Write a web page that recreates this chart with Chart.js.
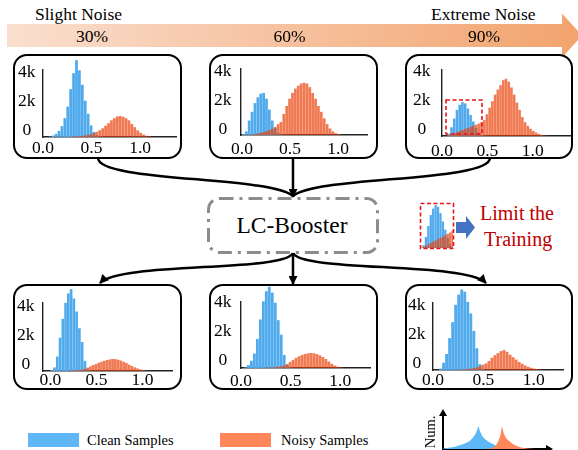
<!DOCTYPE html>
<html>
<head>
<meta charset="utf-8">
<title>LC-Booster noise histograms</title>
<script src="https://cdn.jsdelivr.net/npm/chart.js@4.4.1/dist/chart.umd.min.js"></script>
<style>
  html, body { margin: 0; padding: 0; background: #fff; }
  #fig { position: relative; width: 578px; height: 450px; overflow: hidden;
         font-family: 'Liberation Serif', 'Times New Roman', 'DejaVu Serif', serif; color: #000; }
  #fig svg { position: absolute; left: 0; top: 0; }
  .box { position: absolute; box-sizing: border-box; border: 2.5px solid #000;
         border-radius: 14px; background: #fff; }
  .t { position: absolute; white-space: nowrap; line-height: 1; z-index: 5; }
  .c { transform: translateX(-50%); }
  canvas { position: absolute; z-index: 3; }
  .key { position: absolute; height: 14px; width: 51px; top: 433px; }
</style>
</head>
<body>
<div id="fig">
  <svg id="bg" width="578" height="450">
    <defs>
      <linearGradient id="noiseGrad" x1="0" x2="1" y1="0" y2="0">
        <stop offset="0" stop-color="#fadfcf"/>
        <stop offset="1" stop-color="#f2a36d"/>
      </linearGradient>
      <marker id="ah" viewBox="0 0 10 10" refX="9" refY="5" markerWidth="10" markerHeight="9"
              markerUnits="userSpaceOnUse" orient="auto">
        <path d="M0,0 L10,5 L0,10 z" fill="#000"/>
      </marker>
    </defs>
    <polygon points="7,24 562,24 562,13.5 582,35.5 562,57.5 562,47 7,47" fill="url(#noiseGrad)"/>
    <g fill="none" stroke="#000" stroke-width="2.5">
      <path d="M98,158 C98,182 270,176 293,196"/>
      <path d="M490,158 C490,182 316,176 293,196"/>
      <path d="M293,158 L293,197" marker-end="url(#ah)"/>
      <path d="M293,253 C285,272 120,262 100,283" marker-end="url(#ah)"/>
      <path d="M293,253 L293,284" marker-end="url(#ah)"/>
      <path d="M293,253 C301,272 466,262 486,283" marker-end="url(#ah)"/>
    </g>
    <rect x="208.5" y="198.5" width="169" height="54" rx="11" fill="#fff" stroke="#8c8c8c"
          stroke-width="3" stroke-dasharray="14 6 3 6"/>
    <polygon points="456,222 466,222 466,216 475,227.5 466,239 466,233 456,233" fill="#4472c4"/>
  </svg>

  <div class="t" style="left:35px;top:6.2px;font-size:17.5px">Slight Noise</div>
  <div class="t" style="left:431px;top:6.2px;font-size:17.5px">Extreme Noise</div>
  <div class="t c" style="left:92px;top:28.3px;font-size:17.5px">30%</div>
  <div class="t c" style="left:289.5px;top:28.3px;font-size:17.5px">60%</div>
  <div class="t c" style="left:484px;top:28.3px;font-size:17.5px">90%</div>
  <div class="t c" style="left:292px;top:214px;font-size:23.5px">LC-Booster</div>
  <div class="t" style="left:480px;top:202.5px;font-size:20px;color:#c00000">Limit the</div>
  <div class="t" style="left:484px;top:229px;font-size:20px;color:#c00000">Training</div>

  <div class="key" style="left:27.5px;background:rgb(94,184,248)"></div>
  <div class="t" style="left:87px;top:433px;font-size:14.5px">Clean Samples</div>
  <div class="key" style="left:220px;background:rgb(255,135,90)"></div>
  <div class="t" style="left:281px;top:433px;font-size:14.5px">Noisy Samples</div>
</div>

<script>
// histogram bins on the score axis (bin centres)
const binWidth = 0.03;
const bins = Array.from({ length: 47 }, (_, k) => +(binWidth * (k + 0.5)).toFixed(3));

const xTicks = [0, 0.5, 1.0];
const xTickLabels = ['0.0', '0.5', '1.0'];
const yTicks = [0, 2000, 4000];
const yTickLabels = ['0', '2k', '4k'];

// top row: before LC-Booster (30%, 60%, 90% noise)
const clean30 = [0, 0, 30, 100, 220, 420, 750, 1300, 2100, 3300, 4400, 5300, 4600, 3600, 2500, 1600, 800, 350, 120, 40, 10];
const noisy30 = [0, 0, 0, 0, 0, 0, 0, 0, 0, 20, 30, 40, 60, 80, 110, 150, 200, 270, 360, 470, 600, 780, 950, 1150, 1300, 1420, 1450, 1400, 1300, 1150, 900, 680, 460, 290, 170, 90, 40, 15];
const clean60 = [60, 250, 1000, 1600, 2200, 2600, 2850, 2900, 2500, 1750, 1000, 500, 150, 40];
const noisy60 = [0, 0, 0, 30, 60, 100, 150, 200, 260, 330, 420, 550, 750, 900, 1450, 2000, 2500, 2900, 3200, 3400, 3550, 3600, 3550, 3300, 2900, 2500, 2000, 1600, 1150, 750, 450, 250, 130, 60, 20];
const clean90 = [0, 0, 150, 600, 1200, 1800, 2150, 2340, 2250, 1900, 1450, 1000, 550, 200, 60, 15];
const noisy90 = [0, 20, 60, 120, 200, 270, 340, 410, 480, 550, 620, 700, 780, 850, 950, 1100, 1500, 1950, 2400, 2850, 3200, 3500, 3850, 3950, 3750, 3350, 2850, 2300, 1800, 1300, 950, 700, 500, 350, 250, 150, 80, 40, 15];

// bottom row: after LC-Booster
const cleanB30 = [60, 250, 1000, 2300, 3600, 4700, 5350, 5650, 5000, 4100, 2950, 2000, 700, 150, 30];
const noisyB30 = [0, 0, 0, 0, 0, 0, 10, 20, 30, 50, 70, 100, 150, 230, 320, 410, 480, 570, 640, 700, 760, 800, 830, 820, 780, 720, 640, 550, 440, 340, 250, 180, 110, 60, 25, 10];
const cleanB60 = [0, 40, 200, 500, 1000, 2000, 3350, 4600, 5300, 5600, 5200, 4500, 3300, 2300, 900, 200, 40];
const noisyB60 = [0, 0, 0, 0, 0, 0, 0, 0, 10, 20, 30, 50, 80, 120, 180, 280, 420, 560, 700, 810, 900, 970, 1010, 1030, 1020, 960, 870, 760, 620, 450, 290, 170, 90, 40, 15];
const cleanB90 = [0, 0, 100, 500, 1100, 2200, 3300, 4500, 5200, 5550, 5400, 4700, 3900, 2700, 1500, 400, 80];
const noisyB90 = [0, 0, 0, 0, 0, 0, 0, 0, 10, 20, 40, 60, 90, 130, 180, 260, 360, 460, 620, 850, 1020, 1170, 1300, 1380, 1250, 1050, 880, 720, 560, 430, 310, 220, 150, 100, 60, 30, 10];

// little "Num." sketch in the legend
const numX = [0, 0.1, 0.19, 0.24, 0.27, 0.3, 0.315, 0.327, 0.34, 0.36, 0.38, 0.42, 0.46, 0.49, 0.51, 0.53, 0.545, 0.56, 0.58, 0.6, 0.64, 0.68, 0.73, 0.78, 0.85];
const numClean = [0.01, 0.05, 0.13, 0.2, 0.28, 0.4, 0.5, 0.61, 0.48, 0.36, 0.28, 0.19, 0.13, 0.09, 0.07, 0.05, 0.04, 0.03, 0.02, 0.015, 0.01, 0, 0, 0, 0];
const numNoisy = [0, 0, 0, 0, 0, 0, 0, 0, 0, 0, 0, 0.005, 0.03, 0.1, 0.2, 0.36, 0.61, 0.42, 0.3, 0.24, 0.14, 0.08, 0.03, 0.01, 0];

const cleanColor = 'rgb(80,170,236)';
const noisyColor = 'rgba(233,65,10,0.7)';
const serif = "'Liberation Serif', 'Times New Roman', 'DejaVu Serif', serif";

Chart.defaults.font.family = serif;
Chart.defaults.color = '#000';

const fig = document.getElementById('fig');

// box = [left, top, width, height]; axis = [x, top, right, bottom] in page pixels
const panels = [
  { clean: clean30, noisy: noisy30, box: [13, 54, 169, 105], axis: [43, 70, 176, 137], xr: [0, 1.37], xPad: 1, yPad: 7.5, lo: -7 },
  { clean: clean60, noisy: noisy60, box: [209, 54, 169, 105], axis: [241, 69, 367, 135], xr: [-0.01, 1.30], xPad: 3.5, yPad: 9.5, lo: -6 },
  { clean: clean90, noisy: noisy90, box: [405, 54, 168, 105], axis: [442, 70, 570, 136], xr: [0, 1.41], xPad: 4.5, yPad: 11.5, lo: -7 },
  { clean: cleanB30, noisy: noisyB30, box: [13, 284, 169, 106], axis: [43, 303, 172, 371], xr: [-0.08, 1.32], xPad: -1, yPad: 8.5, lo: -7 },
  { clean: cleanB60, noisy: noisyB60, box: [209, 284, 169, 106], axis: [241, 302, 370, 368], xr: [0, 1.30], xPad: 3, yPad: 9.5, lo: -8 },
  { clean: cleanB90, noisy: noisyB90, box: [405, 284, 168, 106], axis: [433, 303, 563, 370], xr: [0, 1.29], xPad: 0, yPad: 7.5, lo: -7 }
];

function place(el, left, top, w, h) {
  el.style.left = left + 'px';
  el.style.top = top + 'px';
  el.style.width = w + 'px';
  el.style.height = h + 'px';
}

function makeCanvas(left, top, w, h) {
  const c = document.createElement('canvas');
  c.width = w;
  c.height = h;
  place(c, left, top, w, h);
  fig.appendChild(c);
  return c;
}

function histDatasets(clean, noisy) {
  const common = { grouped: false, barPercentage: 0.95, categoryPercentage: 1, clip: false, borderWidth: 0 };
  return [
    { ...common, data: clean, backgroundColor: cleanColor, order: 2 },
    { ...common, data: noisy, backgroundColor: noisyColor, order: 1 }
  ];
}

function drawPanel(p) {
  const box = document.createElement('div');
  box.className = 'box';
  place(box, ...p.box);
  fig.appendChild(box);

  const [ax, at, ar, ab] = p.axis;
  const yW = 40, padTop = 24, xH = 28, padRight = 2;
  const w = ar - ax + yW + padRight;
  const h = padTop + (ab - at) + xH;
  const canvas = makeCanvas(ax - yW, at - padTop, w, h);
  const yMax = (ab - at) / 58 * 4000;
  const tickFont = { family: serif, size: 17.5 };

  new Chart(canvas, {
    type: 'bar',
    data: { labels: bins, datasets: histDatasets(p.clean, p.noisy) },
    options: {
      responsive: false,
      maintainAspectRatio: false,
      animation: false,
      events: [],
      layout: { padding: { top: padTop, right: padRight, left: 0, bottom: 0 } },
      plugins: { legend: { display: false }, tooltip: { enabled: false } },
      scales: {
        x: {
          type: 'linear',
          offset: false,
          min: p.xr[0],
          max: p.xr[1],
          grid: { display: false, drawTicks: false },
          border: { display: true, color: '#222', width: 1.4 },
          afterFit: s => { s.height = xH; },
          afterBuildTicks: s => { s.ticks = xTicks.map(v => ({ value: v })); },
          ticks: {
            padding: p.xPad, maxRotation: 0, autoSkip: false, font: tickFont,
            callback: (v, i) => xTickLabels[i]
          }
        },
        y: {
          min: 0,
          max: yMax,
          grid: { display: false, drawTicks: false },
          border: { display: true, color: '#222', width: 1.4 },
          afterFit: s => { s.width = yW; },
          afterBuildTicks: s => { s.ticks = yTicks.map(v => ({ value: v })); },
          ticks: {
            padding: p.yPad, crossAlign: 'center', labelOffset: p.lo, font: tickFont,
            callback: (v, i) => yTickLabels[i]
          }
        }
      }
    }
  });
}

panels.forEach(drawPanel);

// magnified view of the dashed region of the 90% panel
new Chart(makeCanvas(421, 204, 32, 44), {
  type: 'bar',
  data: { labels: bins, datasets: histDatasets(clean90, noisy90) },
  options: {
    responsive: false, maintainAspectRatio: false, animation: false, events: [],
    layout: { padding: 0 },
    plugins: { legend: { display: false }, tooltip: { enabled: false } },
    scales: {
      x: { type: 'linear', offset: false, min: 0.044, max: 0.44, display: false },
      y: { min: 0, max: 2400, display: false }
    }
  }
});

// arrow heads on the legend sketch axes
const axisArrows = {
  id: 'axisArrows',
  afterDraw(chart) {
    const { ctx, chartArea: a } = chart;
    ctx.save();
    ctx.fillStyle = '#000';
    ctx.beginPath();
    ctx.moveTo(a.left, a.top - 6);
    ctx.lineTo(a.left - 4, a.top + 1);
    ctx.lineTo(a.left + 4, a.top + 1);
    ctx.fill();
    ctx.beginPath();
    ctx.moveTo(a.right + 6, a.bottom);
    ctx.lineTo(a.right - 1, a.bottom - 4);
    ctx.lineTo(a.right - 1, a.bottom + 4);
    ctx.fill();
    ctx.restore();
  }
};

new Chart(makeCanvas(415, 404, 140, 47), {
  type: 'line',
  data: {
    labels: numX,
    datasets: [
      { data: numClean, backgroundColor: 'rgb(94,184,248)', fill: 'origin', borderWidth: 0, pointRadius: 0, order: 2 },
      { data: numNoisy, backgroundColor: 'rgb(255,135,90)', fill: 'origin', borderWidth: 0, pointRadius: 0, order: 1 }
    ]
  },
  options: {
    responsive: false, maintainAspectRatio: false, animation: false, events: [],
    layout: { padding: { top: 11, right: 8, left: 0, bottom: 0 } },
    plugins: { legend: { display: false }, tooltip: { enabled: false } },
    scales: {
      x: {
        type: 'linear', min: 0, max: 0.96,
        grid: { display: false, drawTicks: false },
        border: { display: true, color: '#000', width: 2 },
        ticks: { display: false },
        afterFit: s => { s.height = 2; }
      },
      y: {
        min: 0, max: 0.9,
        grid: { display: false, drawTicks: false },
        border: { display: true, color: '#000', width: 2 },
        ticks: { display: false },
        title: { display: true, text: 'Num.', font: { family: serif, size: 14.5 }, padding: { top: 7, bottom: 0 } },
        afterFit: s => { s.width = 28; }
      }
    }
  },
  plugins: [axisArrows]
});

// red dashed selection boxes drawn over the charts
const fg = document.createElementNS('http://www.w3.org/2000/svg', 'svg');
fg.setAttribute('width', 578);
fg.setAttribute('height', 450);
fg.style.zIndex = 6;
fg.innerHTML =
  '<g fill="none" stroke="#e8141b" stroke-width="1.6" stroke-dasharray="4 2.5">' +
  '<rect x="446" y="100" width="36" height="34"/>' +
  '<rect x="420.5" y="203.5" width="33" height="45"/>' +
  '</g>';
fig.appendChild(fg);
</script>
</body>
</html>
